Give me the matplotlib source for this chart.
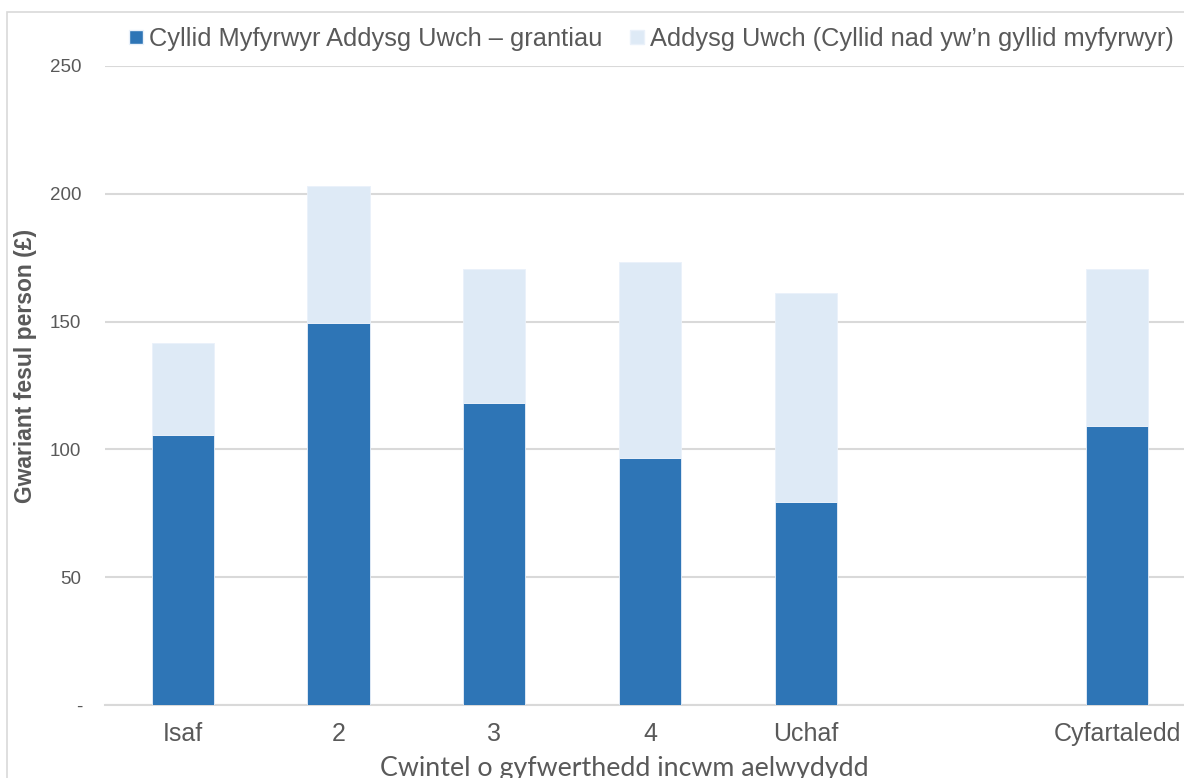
import matplotlib
matplotlib.use("Agg")
import matplotlib.pyplot as plt
import matplotlib.transforms as mtransforms
from matplotlib.patches import Rectangle, Patch

categories = ["Isaf", "2", "3", "4", "Uchaf", "Cyfartaledd"]
positions = [0, 1, 2, 3, 4, 6]
grants = [105.5, 149.4, 118.0, 96.5, 79.3, 109.3]
non_student = [36.3, 53.8, 52.5, 77.0, 81.9, 61.2]
series_names = ["Cyllid Myfyrwyr Addysg Uwch – grantiau",
                "Addysg Uwch (Cyllid nad yw’n gyllid myfyrwyr)"]
yticks = [0, 50, 100, 150, 200, 250]
ytick_labels = ["-", "50", "100", "150", "200", "250"]

DARK = "#2E75B6"
LIGHT = "#DEEAF6"
TXT = "#595959"
GRID = "#D9D9D9"

plt.rcParams['font.family'] = ['Liberation Sans', 'DejaVu Sans']

W, H = 1184, 778
fig = plt.figure(figsize=(W / 100, H / 100), dpi=100)

# chart border
fig.patches.append(Rectangle((7 / W, -0.1), 1.2, (H - 12) / H + 0.1,
                             transform=fig.transFigure, fill=False,
                             edgecolor=GRID, linewidth=1.2, zorder=0))

ax = fig.add_axes([105 / W, (H - 705) / H, (W - 105) / W, (705 - 66) / H])
ax.bar(positions, grants, width=0.4, color=DARK, edgecolor="#EAF1FA",
       linewidth=0.6, zorder=3)
ax.bar(positions, non_student, width=0.4, bottom=grants, color=LIGHT,
       edgecolor="#EAF1FA", linewidth=0.6, zorder=3)

ax.set_xlim(-0.5, 6.43)
ax.set_ylim(0, 250)
ax.set_yticks(yticks)
ax.set_yticklabels(ytick_labels)
ax.set_xticks(positions)
ax.set_xticklabels(categories)
ax.yaxis.grid(True, color=GRID, linewidth=1.5, zorder=0)
ax.set_axisbelow(True)
for s in ["top", "right", "left"]:
    ax.spines[s].set_visible(False)
ax.spines["bottom"].set_color(GRID)
ax.spines["bottom"].set_linewidth(1.5)
ax.tick_params(axis="y", length=0, pad=17, labelsize=13.5, labelcolor=TXT)
ax.tick_params(axis="x", length=0, pad=12, labelsize=18, labelcolor=TXT)

# shift the "-" zero label slightly right as in reference
lbl0 = ax.get_yticklabels()[0]
lbl0.set_transform(lbl0.get_transform() +
                   mtransforms.ScaledTranslation(1 / 72, 0, fig.dpi_scale_trans))

fig.text(26 / W, (H - 366) / H, "Gwariant fesul person (£)", rotation=90,
         ha="center", va="center", fontsize=16.5, fontweight="bold", color=TXT)

fig.text(624 / W, (H - 756) / H, "Cwintel o gyfwerthedd incwm aelwydydd",
         ha="center", va="top", fontsize=19.3, color=TXT,
         family=["Lato", "DejaVu Sans"])

fs = 18.3
em = fs * 100 / 72
leg_x = [129, 630]
cols = [DARK, LIGHT]
for i in range(2):
    h = Patch(facecolor=cols[i], edgecolor="#EAF1FA", label=series_names[i])
    leg = fig.legend(handles=[h], loc="center left",
                     bbox_to_anchor=(leg_x[i] / W, (H - 39) / H),
                     frameon=False, fontsize=fs, handlelength=14 / em,
                     handleheight=12 / em, handletextpad=6 / em,
                     borderaxespad=0, borderpad=0)
    for t in leg.get_texts():
        t.set_color(TXT)

fig.savefig("out.png", dpi=100)
